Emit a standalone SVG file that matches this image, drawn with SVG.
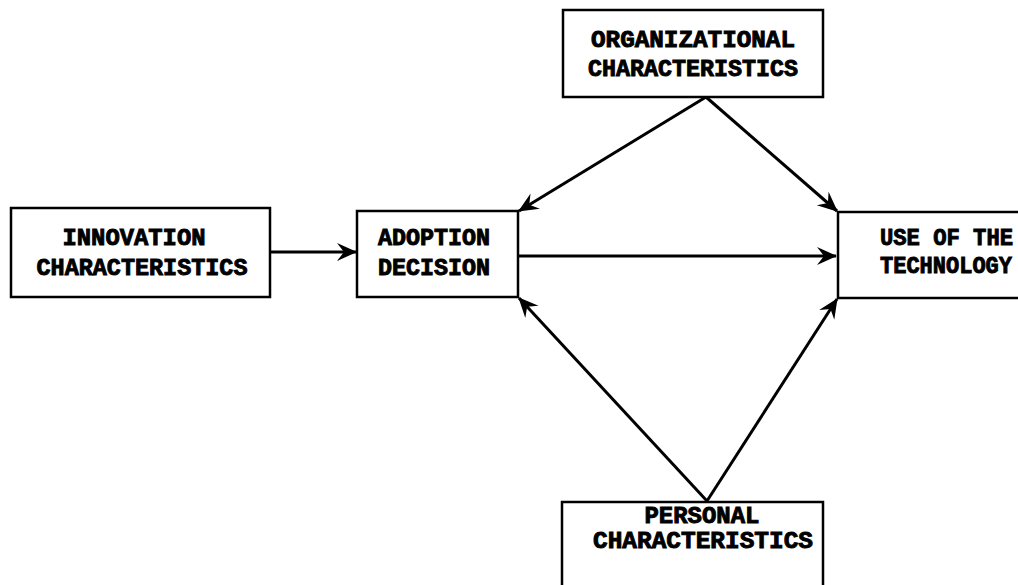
<svg xmlns="http://www.w3.org/2000/svg" width="1018" height="585" viewBox="0 0 1018 585">
<style>
.box{fill:#fff;stroke:#000;stroke-width:2.5}
.lbl{font-family:"Liberation Mono","DejaVu Sans Mono",monospace;font-weight:bold;font-size:23px;fill:#000;stroke:#000;stroke-width:0.9;text-anchor:middle}
.con{stroke:#000;stroke-width:3;fill:none;marker-end:url(#ah)}
</style>
<defs>
<marker id="ah" markerUnits="userSpaceOnUse" markerWidth="26" markerHeight="22" viewBox="-22 -11 26 22" refX="0" refY="0" orient="auto">
<path d="M1,0 L-19,-9 L-12,0 L-19,9 Z" fill="#000"/>
</marker>
</defs>
<rect width="1018" height="585" fill="#fff"/>
<g id="connectors">
<line class="con" x1="270" y1="252" x2="356" y2="252"/>
<line class="con" x1="518" y1="256" x2="836" y2="256"/>
<line class="con" x1="706" y1="97" x2="519" y2="211"/>
<line class="con" x1="706" y1="97" x2="837" y2="211"/>
<line class="con" x1="707" y1="501" x2="519" y2="298"/>
<line class="con" x1="707" y1="501" x2="837" y2="299"/>
</g>
<g id="organizational">
<rect class="box" x="563" y="10" width="260" height="87"/>
<text class="lbl" x="693" y="47" textLength="204" lengthAdjust="spacingAndGlyphs">ORGANIZATIONAL</text>
<text class="lbl" x="693" y="76" textLength="210" lengthAdjust="spacingAndGlyphs">CHARACTERISTICS</text>
</g>
<g id="innovation">
<rect class="box" x="11" y="208" width="259" height="89"/>
<text class="lbl" x="134" y="245" textLength="143" lengthAdjust="spacingAndGlyphs">INNOVATION</text>
<text class="lbl" x="142" y="275" textLength="211" lengthAdjust="spacingAndGlyphs">CHARACTERISTICS</text>
</g>
<g id="adoption">
<rect class="box" x="357" y="211" width="161" height="86"/>
<text class="lbl" x="434" y="245" textLength="112" lengthAdjust="spacingAndGlyphs">ADOPTION</text>
<text class="lbl" x="434" y="275" textLength="112" lengthAdjust="spacingAndGlyphs">DECISION</text>
</g>
<g id="use">
<rect class="box" x="838" y="212" width="200" height="86"/>
<text class="lbl" x="880" y="245" style="text-anchor:start" textLength="133" lengthAdjust="spacingAndGlyphs">USE OF THE</text>
<text class="lbl" x="880" y="273" style="text-anchor:start" textLength="132" lengthAdjust="spacingAndGlyphs">TECHNOLOGY</text>
</g>
<g id="personal">
<rect class="box" x="562" y="502" width="261" height="100"/>
<text class="lbl" x="702" y="523" textLength="115" lengthAdjust="spacingAndGlyphs">PERSONAL</text>
<text class="lbl" x="703" y="548" textLength="220" lengthAdjust="spacingAndGlyphs">CHARACTERISTICS</text>
</g>
</svg>
